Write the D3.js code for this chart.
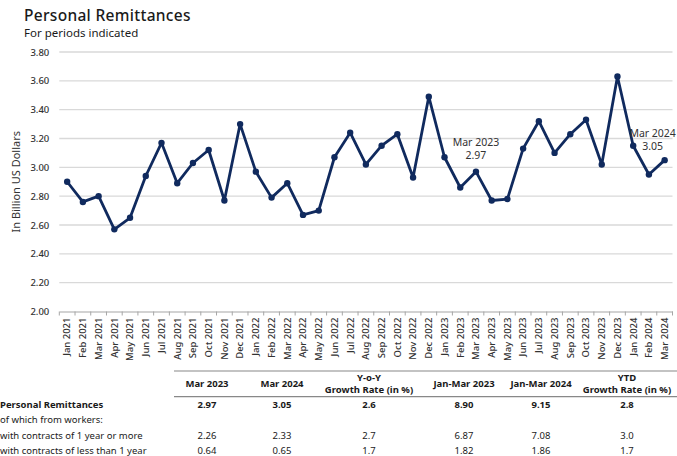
<!DOCTYPE html>
<html>
<head>
<meta charset="utf-8">
<script src="https://cdn.jsdelivr.net/npm/d3@7"></script>
<style>
  html, body { margin: 0; padding: 0; background: #fff; }
  svg { display: block; font-family: "Noto Sans", "Open Sans", sans-serif; }
</style>
</head>
<body>
<svg id="chart" width="677" height="456"></svg>
<script>
// ---------- Data ----------
const months = [
  "Jan 2021","Feb 2021","Mar 2021","Apr 2021","May 2021","Jun 2021","Jul 2021","Aug 2021","Sep 2021","Oct 2021","Nov 2021","Dec 2021",
  "Jan 2022","Feb 2022","Mar 2022","Apr 2022","May 2022","Jun 2022","Jul 2022","Aug 2022","Sep 2022","Oct 2022","Nov 2022","Dec 2022",
  "Jan 2023","Feb 2023","Mar 2023","Apr 2023","May 2023","Jun 2023","Jul 2023","Aug 2023","Sep 2023","Oct 2023","Nov 2023","Dec 2023",
  "Jan 2024","Feb 2024","Mar 2024"
];
const remittances = [
  2.90, 2.76, 2.80, 2.57, 2.65, 2.94, 3.17, 2.89, 3.03, 3.12, 2.77, 3.30,
  2.97, 2.79, 2.89, 2.67, 2.70, 3.07, 3.24, 3.02, 3.15, 3.23, 2.93, 3.49,
  3.07, 2.86, 2.97, 2.77, 2.78, 3.13, 3.32, 3.10, 3.23, 3.33, 3.02, 3.63,
  3.15, 2.95, 3.05
];
const yTicks = [2.00, 2.20, 2.40, 2.60, 2.80, 3.00, 3.20, 3.40, 3.60, 3.80];
const annotations = [
  { month: "Mar 2023", label: "Mar 2023", value: "2.97" },
  { month: "Mar 2024", label: "Mar 2024", value: "3.05" }
];

const tableHeaders = [
  ["Mar 2023"], ["Mar 2024"], ["Y-o-Y", "Growth Rate (in %)"],
  ["Jan-Mar 2023"], ["Jan-Mar 2024"], ["YTD", "Growth Rate (in %)"]
];
const tableRowLabels = [
  "Personal Remittances",
  "of which from workers:",
  "with contracts of 1 year or more",
  "with contracts of less than 1 year"
];
const rowTotal   = ["2.97", "3.05", "2.6", "8.90", "9.15", "2.8"];
const rowHeader2 = ["", "", "", "", "", ""];
const rowLong    = ["2.26", "2.33", "2.7", "6.87", "7.08", "3.0"];
const rowShort   = ["0.64", "0.65", "1.7", "1.82", "1.86", "1.7"];
const tableValues = [rowTotal, rowHeader2, rowLong, rowShort];

// ---------- Layout ----------
const svg = d3.select("#chart");
const W = 677, H = 456;
const lineColor = "#102a5e";
const plot = { left: 59.3, right: 672.5, top: 52, bottom: 311.5 };

const x = d3.scaleBand().domain(months).range([plot.left, plot.right]).padding(0);
const y = d3.scaleLinear().domain([2.0, 3.8]).range([plot.bottom, plot.top]);

// Title
svg.append("text").attr("x", 24).attr("y", 21)
  .attr("font-size", 15.5).attr("font-weight", 500).attr("fill", "#1a1a1a")
  .attr("letter-spacing", 0.3)
  .text("Personal Remittances");
svg.append("text").attr("x", 24).attr("y", 37)
  .attr("font-size", 11.5).attr("fill", "#1a1a1a")
  .text("For periods indicated");

// Gridlines
svg.append("g").selectAll("line").data(yTicks.filter(d => d > 2)).join("line")
  .attr("x1", plot.left).attr("x2", plot.right)
  .attr("y1", d => y(d)).attr("y2", d => y(d))
  .attr("stroke", "#d9d9d9").attr("stroke-width", 1.3);

// Y axis (labels only)
const yAxis = d3.axisLeft(y).tickValues(yTicks).tickFormat(d3.format(".2f")).tickSize(0).tickPadding(10);
const gy = svg.append("g").attr("transform", `translate(${plot.left},0)`).call(yAxis);
gy.select(".domain").remove();
gy.selectAll("text").attr("font-size", 9.5).attr("font-weight", 500).attr("fill", "#333")
  .attr("font-family", "Noto Sans, sans-serif");

// Y title
svg.append("text")
  .attr("transform", `translate(20,${(plot.top + plot.bottom) / 2}) rotate(-90)`)
  .attr("text-anchor", "middle").attr("font-size", 11).attr("fill", "#333")
  .text("In Billion US Dollars");

// X axis with ticks at band edges
const gx = svg.append("g").attr("transform", `translate(0,${plot.bottom})`)
  .call(d3.axisBottom(x).tickSize(0).tickPadding(6));
gx.select(".domain").attr("stroke", "#a6a6a6").attr("stroke-width", 1.2);
gx.selectAll(".tick text")
  .attr("font-size", 9.5).attr("font-weight", 500).attr("fill", "#333")
  .attr("font-family", "Noto Sans, sans-serif")
  .attr("text-anchor", "end")
  .attr("transform", "rotate(-90)")
  .attr("x", -6).attr("y", 0).attr("dy", "0.35em");
const edges = months.map(m => x(m)).concat([x(months[months.length - 1]) + x.bandwidth()]);
gx.append("g").selectAll("line").data(edges).join("line")
  .attr("x1", d => d).attr("x2", d => d).attr("y1", 0).attr("y2", 4)
  .attr("stroke", "#a6a6a6").attr("stroke-width", 1);

// Line
const cx = m => x(m) + x.bandwidth() / 2;
const pts = months.map((m, i) => ({ m, v: remittances[i] }));
svg.append("path").datum(pts)
  .attr("fill", "none").attr("stroke", lineColor).attr("stroke-width", 2.8)
  .attr("stroke-linejoin", "round")
  .attr("d", d3.line().x(d => cx(d.m)).y(d => y(d.v)));
svg.append("g").selectAll("circle").data(pts).join("circle")
  .attr("cx", d => cx(d.m)).attr("cy", d => y(d.v)).attr("r", 3.2)
  .attr("fill", lineColor);

// Annotations
const annG = svg.append("g").attr("font-size", 10.5).attr("fill", "#333").attr("text-anchor", "middle");
annotations.forEach((a, i) => {
  const i0 = months.indexOf(a.month);
  const ax = cx(a.month) + (i === 0 ? 0 : -12);
  const py = y(remittances[i0]);
  const valY = py - (i === 0 ? 16 : 14);
  annG.append("text").attr("x", ax).attr("y", valY - 13).attr("dy", "0.35em").text(a.label);
  annG.append("text").attr("x", ax).attr("y", valY).attr("dy", "0.35em").text(a.value);
});

// ---------- Table ----------
const colCenters = [207, 282, 369, 464, 541, 627];
const tbl = svg.append("g").attr("font-size", 9.5).attr("fill", "#1a1a1a");
tbl.append("line").attr("x1", 174).attr("x2", W).attr("y1", 371).attr("y2", 371)
  .attr("stroke", "#888").attr("stroke-width", 1.2);
tbl.append("line").attr("x1", 174).attr("x2", W).attr("y1", 396.7).attr("y2", 396.7)
  .attr("stroke", "#888").attr("stroke-width", 1.2);

tableHeaders.forEach((h, i) => {
  const ys = h.length === 1 ? [384] : [378, 390];
  h.forEach((t, j) => {
    tbl.append("text").attr("x", colCenters[i]).attr("y", ys[j]).attr("dy", "0.35em")
      .attr("text-anchor", "middle").attr("font-weight", 700).text(t);
  });
});

const rowYs = [405, 420, 436, 451];
tableRowLabels.forEach((lab, r) => {
  tbl.append("text").attr("x", 0).attr("y", rowYs[r]).attr("dy", "0.35em")
    .attr("font-weight", r === 0 ? 700 : 400).text(lab);
  tableValues[r].forEach((v, c) => {
    if (!v) return;
    tbl.append("text").attr("x", colCenters[c]).attr("y", rowYs[r]).attr("dy", "0.35em")
      .attr("text-anchor", "middle").attr("font-weight", r === 0 ? 700 : 400).text(v);
  });
});
</script>
</body>
</html>
